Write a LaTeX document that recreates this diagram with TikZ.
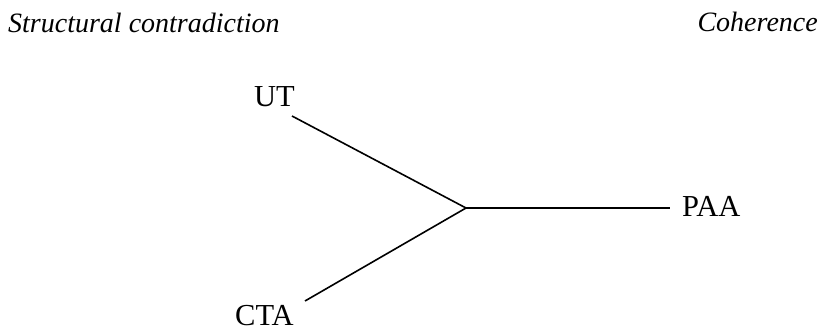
\documentclass[tikz,border=0pt]{standalone}
\usepackage{fontspec}
\setmainfont{Liberation Serif}
\begin{document}
\begin{tikzpicture}[x=1pt,y=-1pt,
  lbl/.style={inner sep=0pt,anchor=base west,font=\fontsize{30.5}{36}\selectfont},
  ttl/.style={inner sep=0pt,font=\fontsize{28}{33}\selectfont\itshape},
  edge/.style={line width=1.6pt}]
\useasboundingbox (0,0) rectangle (823,331);
\node[ttl,anchor=base west] (sc) at (8,33) {Structural contradiction};
\node[ttl,anchor=base east] (coh) at (818,32) {Coherence};
\node[lbl] (ut) at (254,107) {UT};
\node[lbl] (paa) at (682,217) {PAA};
\node[lbl] (cta) at (235,326) {CTA};
\coordinate (j) at (466,208);
\coordinate (ue) at (292,116);
\coordinate (pe) at (670,208);
\coordinate (ce) at (305,301);
\draw[edge] (ue) -- (j) -- (ce);
\draw[edge] (j) -- (pe);
\end{tikzpicture}
\end{document}
